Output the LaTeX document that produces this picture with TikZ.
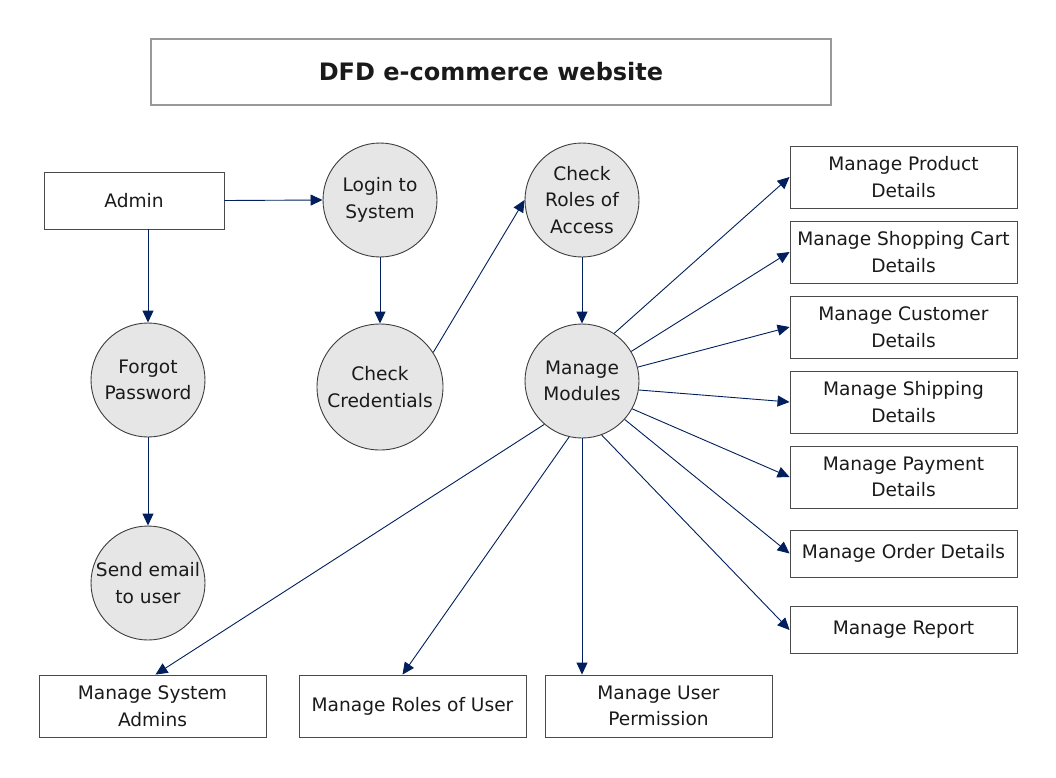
\documentclass[tikz,border=0pt]{standalone}
\usepackage{fontspec}
\setmainfont{DejaVu Sans}
\usepackage{xcolor}
\usepackage{tikz}
\usetikzlibrary{arrows.meta}

\definecolor{flowblue}{HTML}{001F5C}
\definecolor{procfill}{HTML}{E6E6E6}
\definecolor{procline}{HTML}{3C3C3C}
\definecolor{boxline}{HTML}{4A4A4A}
\definecolor{txtgray}{HTML}{1A1A1A}

\begin{document}
\begin{tikzpicture}[
      x=1pt, y=-1pt,
      txt/.style={font=\fontsize{18.6}{26.5}\selectfont, text=txtgray, align=center},
      proc/.style={txt, circle, draw=procline, fill=procfill, line width=0.9pt, inner sep=0pt},
      ent/.style={txt, rectangle, draw=boxline, line width=0.9pt, inner sep=0pt, minimum width=227pt, minimum height=62pt},
      flow/.style={draw=flowblue, line width=0.9pt, -{Triangle[length=12pt, width=11pt]}}
    ]
    \useasboundingbox (0,0) rectangle (1056,777);

    % Titolo
    \node[txt, draw=black!40, line width=1.6pt, minimum width=680pt, minimum height=66pt,
          font=\fontsize{24}{28}\selectfont\bfseries] (title) at (491,72) {DFD e-commerce website};

    % Entita e processi
    \node[ent, minimum width=180pt, minimum height=57pt] (admin) at (134,200.5) {Admin};
    \node[proc, minimum size=114pt] (login) at (380,200) {Login to\\System};
    \node[proc, minimum size=126pt] (cred) at (380,387) {Check\\Credentials};
    \node[proc, minimum size=114pt] (forgot) at (148,380) {Forgot\\Password};
    \node[proc, minimum size=114pt] (email) at (148,583) {Send email\\to user};
    \node[proc, minimum size=114pt] (roles) at (582,200) {Check\\Roles of\\Access};
    \node[proc, minimum size=114pt] (mods) at (582,381) {Manage\\Modules};

    % Moduli a destra
    \node[ent] (product) at (903.5,177) {Manage Product\\Details};
    \node[ent] (cart) at (903.5,252) {Manage Shopping Cart\\Details};
    \node[ent] (cust) at (903.5,327) {Manage Customer\\Details};
    \node[ent] (ship) at (903.5,402) {Manage Shipping\\Details};
    \node[ent] (pay) at (903.5,477) {Manage Payment\\Details};
    \node[ent, minimum height=47pt] (order) at (903.5,553.5) {Manage Order Details};
    \node[ent, minimum height=47pt] (report) at (903.5,630) {Manage Report};

    % Moduli in basso
    \node[ent] (sysadm) at (152.5,706) {Manage System\\Admins};
    \node[ent] (urole) at (412.5,706) {Manage Roles of User};
    \node[ent] (uperm) at (658.5,706) {Manage User\\Permission};

    % Flussi
    \draw[flow] (admin.east) -- (login.west);
    \draw[flow] (admin.south -| forgot) -- (forgot.north);
    \draw[flow] (login.south) -- (cred.north);
    \draw[flow] (cred.33) -- (roles.west);
    \draw[flow] (forgot.south) -- (email.north);
    \draw[flow] (roles.south) -- (mods.north);

    \foreach \tgt/\ang in {product/56, cart/31, cust/14, ship/-9, pay/-29, order/-42, report/-70}
      \draw[flow] (mods.\ang) -- (\tgt.west);

    \draw[flow] (mods.229) -- ([xshift=3pt]sysadm.north);
    \draw[flow] (mods.257) -- ([xshift=-10pt]urole.north);
    \draw[flow] (mods.south) -- (mods |- uperm.north);
  \end{tikzpicture}
\end{document}
